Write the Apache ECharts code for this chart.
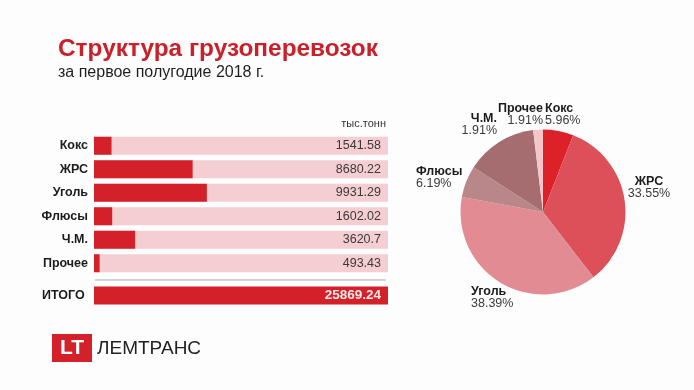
<!DOCTYPE html>
<html>
<head>
<meta charset="utf-8">
<script src="https://cdn.jsdelivr.net/npm/echarts@6/dist/echarts.min.js"></script>
<style>
  html, body { margin: 0; padding: 0; background: #fdfdfd; }
  #chart { width: 694px; height: 390px; }
</style>
</head>
<body>
<div id="chart"></div>
<script>
const categories = ["Кокс", "ЖРС", "Уголь", "Флюсы", "Ч.М.", "Прочее"];
const tonnes = [1541.58, 8680.22, 9931.29, 1602.02, 3620.7, 493.43];
const totalLabel = "ИТОГО";
const total = 25869.24;
// as printed on the picture (Ч.М. really does say 1.91%)
const shareLabels = ["5.96%", "33.55%", "38.39%", "6.19%", "1.91%", "1.91%"];
const pieColors = ["#dc2129", "#dd4f59", "#e38b93", "#b98689", "#a66d70", "#f4c5c9"];

const font = "'Liberation Sans', Arial, sans-serif";
const RED = "#d42129";
const PINK = "#f5ced2";

// where each pie label sits
const pieLabelPlace = [
  { x: 545, y: 115, align: "left" },
  { x: 649, y: 188, align: "center" },
  { x: 471, y: 298, align: "left" },
  { x: 416, y: 178, align: "left" },
  { x: 497, y: 125, align: "right" },
  { x: 543, y: 115, align: "right" },
];

const chart = echarts.init(document.getElementById("chart"));

const valueAxis = (gridIndex) => ({
  type: "value",
  gridIndex,
  min: 0,
  max: total,
  show: false,
});

const catAxis = (gridIndex, data, labelOpts) => ({
  type: "category",
  gridIndex,
  data,
  inverse: true,
  axisLine: { show: false },
  axisTick: { show: false },
  axisLabel: {
    fontFamily: font,
    fontSize: 12.5,
    fontWeight: "bold",
    color: "#1c1c1c",
    ...labelOpts,
  },
});

const valueLabel = (text, color, weight, size) => ({
  show: true,
  position: "insideRight",
  distance: 7,
  formatter: () => text,
  fontFamily: font,
  fontSize: size,
  fontWeight: weight,
  color,
});

chart.setOption({
  animation: false,
  backgroundColor: "#fdfdfd",
  title: [
    {
      text: "Структура грузоперевозок",
      left: 53,
      top: 32,
      textStyle: { fontFamily: font, fontSize: 24.4, fontWeight: "bold", color: "#c9202a" },
    },
    {
      text: "за первое полугодие 2018 г.",
      left: 53,
      top: 60,
      textStyle: { fontFamily: font, fontSize: 16, fontWeight: "normal", color: "#1f1f1f" },
    },
  ],
  grid: [
    { left: 94, top: 134, width: 294, height: 141 },
    { left: 94, top: 286, width: 294, height: 19 },
  ],
  xAxis: [valueAxis(0), valueAxis(1)],
  yAxis: [
    catAxis(0, categories, { margin: 6 }),
    catAxis(1, [totalLabel], { margin: 52, align: "left" }),
  ],
  series: [
    {
      // pink track behind each row, carries the value text
      type: "bar",
      xAxisIndex: 0,
      yAxisIndex: 0,
      barWidth: 18,
      barGap: "-100%",
      itemStyle: { color: PINK },
      data: tonnes.map((v) => ({
        value: total,
        label: valueLabel(String(v), "#3a3a3a", "normal", 12.5),
      })),
      z: 1,
    },
    {
      type: "bar",
      xAxisIndex: 0,
      yAxisIndex: 0,
      barWidth: 18,
      barGap: "-100%",
      itemStyle: { color: RED },
      data: tonnes,
      z: 2,
    },
    {
      type: "bar",
      xAxisIndex: 1,
      yAxisIndex: 1,
      barWidth: 18,
      itemStyle: { color: RED },
      data: [{ value: total, label: valueLabel(String(total), "#fbe9ea", "bold", 13.5) }],
    },
    {
      type: "pie",
      center: [543, 212],
      radius: [0, 82.5],
      startAngle: 90,
      clockwise: true,
      silent: true,
      color: pieColors,
      itemStyle: { borderWidth: 0 },
      labelLine: { show: false },
      label: {
        show: true,
        position: "outside",
        overflow: "none",
        formatter: (p) => `{n|${p.name}}\n{p|${shareLabels[p.dataIndex]}}`,
        rich: {
          n: { fontFamily: font, fontSize: 12.5, fontWeight: "bold", color: "#1c1c1c", lineHeight: 12 },
          p: { fontFamily: font, fontSize: 12.5, color: "#3a3a3a", lineHeight: 12 },
        },
      },
      labelLayout: (p) => ({
        ...pieLabelPlace[p.dataIndex],
        verticalAlign: "middle",
      }),
      data: categories.map((name, i) => ({ name, value: tonnes[i] })),
    },
  ],
  graphic: [
    {
      type: "text",
      style: {
        x: 386, y: 123.5, text: "тыс.тонн", align: "right", verticalAlign: "middle",
        font: `11px ${font}`, fill: "#333",
      },
    },
    {
      type: "line",
      shape: { x1: 95, y1: 280, x2: 386, y2: 280 },
      style: { stroke: "#a9a9ad", lineWidth: 1 },
    },
    {
      type: "rect",
      shape: { x: 52, y: 334, width: 40, height: 28 },
      style: { fill: "#d42129" },
    },
    {
      type: "text",
      style: {
        x: 72, y: 348.5, text: "LT", align: "center", verticalAlign: "middle",
        font: `bold 21px ${font}`, fill: "#fff",
      },
    },
    {
      type: "text",
      style: {
        x: 97, y: 348.5, text: "ЛЕМТРАНС", align: "left", verticalAlign: "middle",
        font: `19px ${font}`, fill: "#222",
      },
    },
  ],
});
</script>
</body>
</html>
